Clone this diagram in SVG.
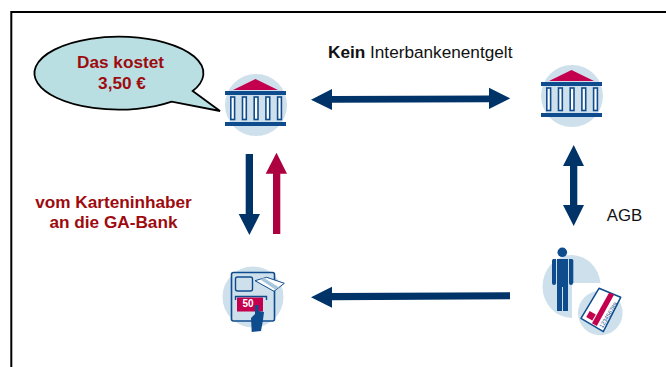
<svg xmlns="http://www.w3.org/2000/svg" width="666" height="367" viewBox="0 0 666 367">
<style>
text{font-family:"Liberation Sans",Arial,sans-serif}
.r{fill:#9e0b0f;font-weight:bold;font-size:17.2px;text-anchor:middle}
.k{fill:#111;font-size:17.2px}
.halo{fill:#cde0eb}
.nv{fill:#003468}
.bl{fill:#0f4c8e}
</style>
<defs>
<g id="bank">
<circle class="halo" cx="0" cy="0" r="31"/>
<path d="M-23-15L-0.500-26L22-15Z" fill="#c4004e"/>
<rect class="bl" x="-31" y="-14" width="61" height="4"/>
<rect class="bl" x="-31" y="17" width="61" height="4"/>
<g fill="#fff" stroke="#0f4c8e" stroke-width="1.600">
<rect x="-25.200" y="-8" width="3.800" height="22.500"/>
<rect x="-13.500" y="-8" width="3.800" height="22.500"/>
<rect x="-1.800" y="-8" width="3.800" height="22.500"/>
<rect x="9.900" y="-8" width="3.800" height="22.500"/>
<rect x="21.600" y="-8" width="3.800" height="22.500"/>
</g>
</g>
</defs>
<rect width="666" height="367" fill="#fff"/>
<path d="M11.300 367V12H666" fill="none" stroke="#000" stroke-width="2"/>
<g id="callout">
<path d="M192.700 91L220 111L171.700 101.700A84.500 36.500 0 1 1 192.700 91Z" fill="#b9dfe3" stroke="#000" stroke-width="1.800"/>
<text class="r" x="120.500" y="68">Das kostet</text>
<text class="r" x="122" y="89">3,50 €</text>
</g>
<g id="bank-left"><use href="#bank" x="256" y="105"/></g>
<g id="bank-right"><use href="#bank" x="572" y="96"/></g>
<g id="atm">
<circle class="halo" cx="253" cy="297" r="30.500"/>
<rect x="231.500" y="272.500" width="43" height="48.500" rx="2" fill="#cde0eb" stroke="#0f4c8e" stroke-width="1.600"/>
<rect x="235.500" y="277" width="17" height="14" rx="2" fill="#cde0eb" stroke="#0f4c8e" stroke-width="1.400"/>
<path d="M255 280.700L266.700 277.300L284.300 283.300L274 291.300Z" fill="#fff" stroke="#0f4c8e" stroke-width="1"/>
<path d="M260 279.200L264 278L279 287.200L275.500 289.800Z" fill="#a8c6dc"/>
<path d="M235.500 300V296.500H266.500V300" fill="none" stroke="#0f4c8e" stroke-width="1.400"/>
<rect x="237" y="297.500" width="26" height="14" fill="#c4004e"/>
<text x="242.500" y="306.500" font-size="10" font-weight="bold" fill="#fff">50</text>
<path d="M251.700 332L251 318L255 314V305H258.500V311L264 312L263 320L261 331Z" class="bl"/>
</g>
<g id="cardholder">
<path d="M572 255A29.500 31.500 0 0 1 600.500 283H572V318A29.500 31.500 0 0 1 572 255Z" class="halo"/>
<circle class="halo" cx="600.300" cy="313" r="22.300"/>
<circle class="bl" cx="562.300" cy="252.300" r="4.800"/>
<path d="M557 259H568V285H568V311H563V287H562V311H557Z" class="bl"/>
<path d="M552 260.500Q552 259 553.500 259H556V283H552Z" class="bl"/>
<path d="M569 259H571.800Q573.300 259 573.300 260.500V283H569Z" class="bl"/>
<circle class="bl" cx="554" cy="283" r="2"/>
<circle class="bl" cx="571" cy="283" r="2"/>
<path d="M599 288.300L620.700 297.300L603.300 331.700L581 318.300Z" fill="#fff" stroke="#0f4c8e" stroke-width="1.500" stroke-linejoin="round"/>
<path d="M609.200 292.600L614 294.700L596.800 326L592 323.200Z" fill="#c4004e"/>
<rect x="587.500" y="312.200" width="7" height="7" fill="#c4004e" transform="rotate(30 591 315.700)"/>
<text font-size="6" fill="#0f4c8e" textLength="29" lengthAdjust="spacingAndGlyphs" transform="translate(602.500 328.500) rotate(-58)">123456789</text>
</g>
<g id="connectors">
<path class="nv" d="M311 99.700L332 89V96L489 95.500V87.700L510.300 98.300L489 109V102.300L332 102.800V110Z"/>
<path class="nv" d="M573.700 145L584 166H577.300V205H584L573.700 226L563 205H570V166H563Z"/>
<path class="nv" d="M245.700 154H253V214H260L249.400 235L238.700 214H245.700Z"/>
<path d="M273 234V173.700H265.700L276.500 152.700L287 173.700H280.300V234Z" fill="#ad0040"/>
<path class="nv" d="M311 297.300L332 286.700V293L510 292.300V299.300L332 300.300V307.700Z"/>
</g>
<text x="328" y="58.300" class="k"><tspan font-weight="bold">Kein</tspan> Interbankenentgelt</text>
<text x="606.700" y="220.700" class="k" style="font-size:16.800px">AGB</text>
<text class="r" x="113.500" y="208">vom Karteninhaber</text>
<text class="r" x="113.500" y="227.700">an die GA-Bank</text>
</svg>
